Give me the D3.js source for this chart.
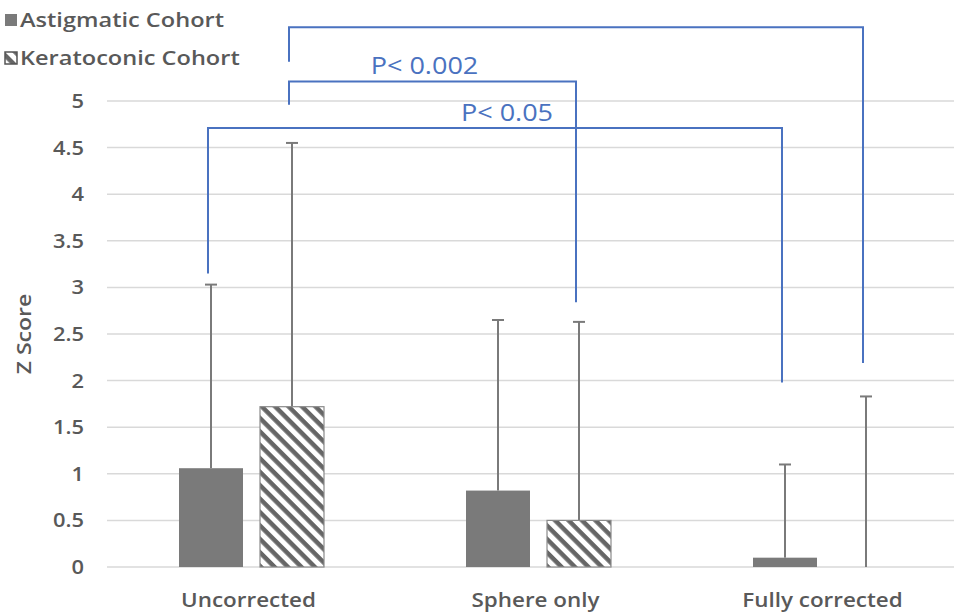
<!DOCTYPE html>
<html>
<head>
<meta charset="utf-8">
<script src="https://cdn.jsdelivr.net/npm/d3@7"></script>
<style>
  body { margin: 0; background: #fff; }
  svg { display: block; }
  text { font-family: "Open Sans", sans-serif; }
</style>
</head>
<body>
<script>
// chart values
var categories = ["Uncorrected", "Sphere only", "Fully corrected"];
var seriesNames = ["Astigmatic Cohort", "Keratoconic Cohort"];
var astigMean = [1.06, 0.82, 0.1];
var astigUpper = [3.03, 2.65, 1.1];   // mean + SD (top of error bar)
var keratMean = [1.72, 0.5, 0];
var keratUpper = [4.55, 2.63, 1.83];
var yTicks = [0, 0.5, 1, 1.5, 2, 2.5, 3, 3.5, 4, 4.5, 5];
var tickLabels = ["0", "0.5", "1", "1.5", "2", "2.5", "3", "3.5", "4", "4.5", "5"];

// significance brackets: ends are [category, series], heights in Z units
var bracketFrom = [[0, 1], [0, 1], [0, 0]];
var bracketTo = [[2, 1], [1, 1], [2, 0]];
var bracketLevel = [5.79, 5.21, 4.71];
var bracketLeftEnd = [5.42, 4.96, 3.15];
var bracketRightEnd = [2.19, 2.84, 1.98];
var bracketLabel = ["", "P< 0.002", "P< 0.05"];

var width = 954, height = 613;
var stretch = 1.15; // source figure text is wide

var svg = d3.select("body").append("svg")
    .attr("width", width)
    .attr("height", height);

var x0 = d3.scaleBand()
    .domain(categories)
    .range([107, 968])
    .paddingInner(0).paddingOuter(0);

var x1 = d3.scaleBand()
    .domain(seriesNames)
    .range([72, 217])
    .paddingInner(0.21).paddingOuter(0);

var y = d3.scaleLinear()
    .domain([0, 5])
    .range([567, 101]);

var defs = svg.append("defs");
var pat = defs.append("pattern")
    .attr("id", "hatch")
    .attr("patternUnits", "userSpaceOnUse")
    .attr("width", 9.5).attr("height", 9.5)
    .attr("patternTransform", "rotate(-45)");
pat.append("rect").attr("width", 9.5).attr("height", 9.5).attr("fill", "#fff");
pat.append("line")
    .attr("x1", 2.5).attr("y1", 0).attr("x2", 2.5).attr("y2", 9.5)
    .attr("stroke", "#666").attr("stroke-width", 4.5);

function stext(sel, x, yy, str) {
    return sel.append("text")
        .attr("transform", "translate(" + x + "," + yy + ") scale(" + stretch + ",1)")
        .text(str);
}

// gridlines
svg.append("g")
    .selectAll("line")
    .data(yTicks)
    .enter().append("line")
    .attr("x1", 107).attr("x2", width)
    .attr("y1", function(d) { return y(d); })
    .attr("y2", function(d) { return y(d); })
    .attr("stroke", "#d9d9d9")
    .attr("stroke-width", 1.5);

// y tick labels
var yl = svg.append("g")
    .attr("fill", "#595959")
    .attr("font-size", 19)
    .attr("font-weight", 600)
    .attr("text-anchor", "end");
yTicks.forEach(function(d, i) {
    stext(yl, 84, y(d) + 7, tickLabels[i]);
});

// y title
svg.append("text")
    .attr("transform", "translate(31," + y(2.5) + ") rotate(-90) scale(" + stretch + ",1)")
    .attr("text-anchor", "middle")
    .attr("font-size", 20)
    .attr("font-weight", 600)
    .attr("fill", "#595959")
    .text("Z Score");

var rows = categories.map(function(c, i) {
    return [
        { cat: c, s: seriesNames[0], v: astigMean[i], up: astigUpper[i] },
        { cat: c, s: seriesNames[1], v: keratMean[i], up: keratUpper[i] }
    ];
});
function barX(ci, si) {
    return x0(categories[ci]) + x1(seriesNames[si]) + x1.bandwidth() / 2;
}

// error bars (upper only)
var eb = svg.append("g")
    .attr("stroke", "#7a7a7a")
    .attr("stroke-width", 2);
rows.forEach(function(r, ci) {
    r.forEach(function(d, si) {
        var cx = barX(ci, si);
        eb.append("line")
            .attr("x1", cx).attr("x2", cx)
            .attr("y1", y(d.v)).attr("y2", y(d.up));
        eb.append("line")
            .attr("x1", cx - 6).attr("x2", cx + 6)
            .attr("y1", y(d.up)).attr("y2", y(d.up));
    });
});

// bars
var groups = svg.append("g")
    .selectAll("g")
    .data(rows)
    .enter().append("g")
    .attr("transform", function(d) { return "translate(" + x0(d[0].cat) + ",0)"; });

groups.selectAll("rect")
    .data(function(d) { return d; })
    .enter().append("rect")
    .attr("x", function(d) { return x1(d.s); })
    .attr("y", function(d) { return y(d.v); })
    .attr("width", x1.bandwidth())
    .attr("height", function(d) { return y(0) - y(d.v); })
    .attr("fill", function(d) { return d.s === seriesNames[0] ? "#7a7a7a" : "url(#hatch)"; })
    .attr("stroke", function(d) { return d.s === seriesNames[0] || d.v === 0 ? "none" : "#8a8a8a"; })
    .attr("stroke-width", 1.2);

// x labels
var xl = svg.append("g")
    .attr("fill", "#595959")
    .attr("font-size", 19.5)
    .attr("font-weight", 600)
    .attr("text-anchor", "middle");
categories.forEach(function(c) {
    stext(xl, x0(c) + x0.bandwidth() / 2 - 2, 607, c);
});

// brackets
var br = svg.append("g")
    .attr("fill", "none")
    .attr("stroke", "#4a72c0")
    .attr("stroke-width", 2);
var bl = svg.append("g")
    .attr("fill", "#4a72c0")
    .attr("font-size", 23.5)
    .attr("text-anchor", "middle");
bracketLevel.forEach(function(lv, i) {
    var xa = barX(bracketFrom[i][0], bracketFrom[i][1]) - 3;
    var xb = barX(bracketTo[i][0], bracketTo[i][1]) - 3;
    br.append("path")
        .attr("d", d3.line()([
            [xa, y(bracketLeftEnd[i])], [xa, y(lv)],
            [xb, y(lv)], [xb, y(bracketRightEnd[i])]
        ]));
    if (bracketLabel[i]) {
        stext(bl, (xa + xb) / 2 + (i === 1 ? -8 : 12), y(lv) - 7, bracketLabel[i]);
    }
});

// legend
var lg = svg.append("g")
    .attr("font-size", 20.5)
    .attr("font-weight", 600)
    .attr("fill", "#595959");
seriesNames.forEach(function(s, i) {
    var ly = 14 + i * 38;
    lg.append("rect")
        .attr("x", 5).attr("y", ly)
        .attr("width", 12).attr("height", 12)
        .attr("fill", i === 0 ? "#7a7a7a" : "url(#hatch)")
        .attr("stroke", i === 0 ? "none" : "#555")
        .attr("stroke-width", 1.5);
    stext(lg, 20, ly + 13, s);
});
</script>
</body>
</html>
